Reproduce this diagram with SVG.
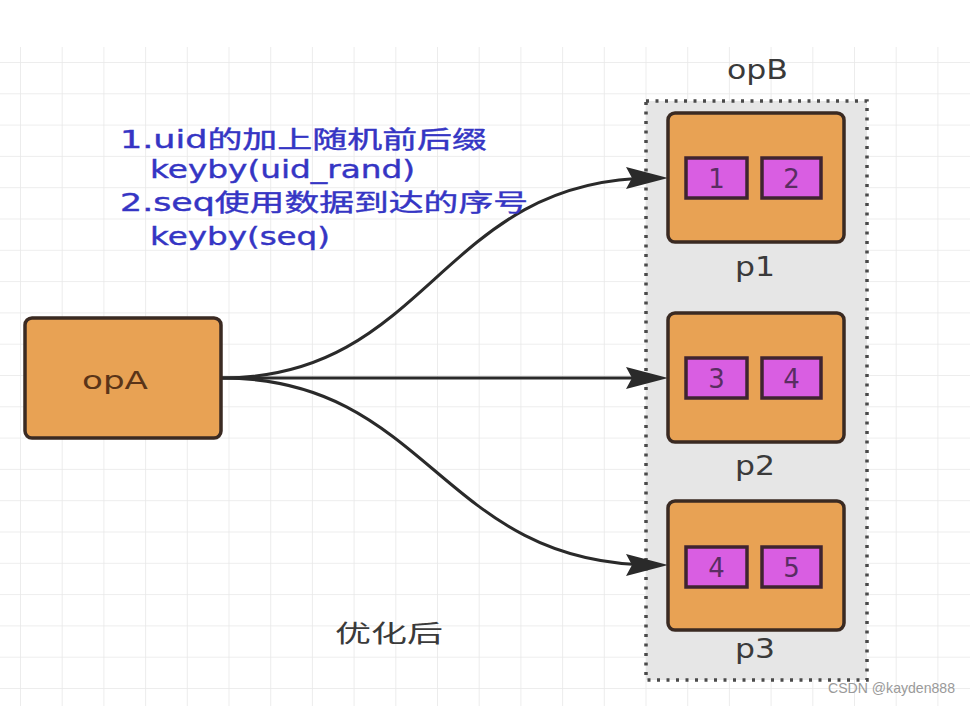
<svg xmlns="http://www.w3.org/2000/svg" width="970" height="706" viewBox="0 0 970 706">
<style>
.t{font-family:"DejaVu Sans","Noto Sans CJK SC",sans-serif;}
.blue{fill:#3535c4;font-size:24px;stroke:#3535c4;stroke-width:0.4;}
.box{fill:#E8A254;stroke:#3a2a22;stroke-width:3.5;}
.cell{fill:#D95EE2;stroke:#3f2430;stroke-width:3.5;}
.num{fill:#5a2d62;font-size:26px;text-anchor:middle;}
.lbl{fill:#3a3a3a;font-size:26px;}
.edge{fill:none;stroke:#2a2a2a;stroke-width:3;}
</style>
<defs>
<pattern id="grid" patternUnits="userSpaceOnUse" x="20" y="62" width="41.7" height="31.3">
<path d="M0,0 H41.7 M0,0 V31.3" fill="none" stroke="#e8e8e8" stroke-width="1.6"/>
</pattern>
<marker id="arr" markerUnits="userSpaceOnUse" markerWidth="44" markerHeight="24" refX="28" refY="11" orient="auto">
<path d="M0,0 L42,11 L0,22 L6,11 Z" fill="#2a2a2a"/>
</marker>
</defs>
<rect width="970" height="706" fill="#ffffff"/>
<rect x="0" y="47" width="970" height="659" fill="url(#grid)"/>

<g id="opB">
<rect x="646" y="101" width="221" height="579" fill="#e6e6e6" stroke="#4a4a4a" stroke-width="3.5" stroke-dasharray="3,6.5"/>
<text class="t lbl" x="727" y="79" textLength="61" lengthAdjust="spacingAndGlyphs">opB</text>
</g>

<g id="connectors">
<path class="edge" d="M222,378 C430,378 440,178 654,178" marker-end="url(#arr)"/>
<path class="edge" d="M222,378 L654,378" marker-end="url(#arr)"/>
<path class="edge" d="M222,378 C430,378 440,565 654,565" marker-end="url(#arr)"/>
</g>

<g id="opA">
<rect class="box" x="25" y="318" width="196" height="120" rx="7"/>
<text class="t" x="82" y="389" font-size="25" fill="#5a3418" textLength="66" lengthAdjust="spacingAndGlyphs">opA</text>
</g>

<g id="p1">
<rect class="box" x="668" y="113" width="176" height="129" rx="7"/>
<rect class="cell" x="686" y="158" width="61" height="40"/>
<rect class="cell" x="762" y="158" width="59" height="40"/>
<text class="t num" x="716.5" y="188">1</text>
<text class="t num" x="791.5" y="188">2</text>
<text class="t lbl" x="735" y="276" textLength="40" lengthAdjust="spacingAndGlyphs">p1</text>
</g>

<g id="p2">
<rect class="box" x="668" y="313" width="176" height="129" rx="7"/>
<rect class="cell" x="686" y="358" width="61" height="40"/>
<rect class="cell" x="762" y="358" width="59" height="40"/>
<text class="t num" x="716.5" y="388">3</text>
<text class="t num" x="791.5" y="388">4</text>
<text class="t lbl" x="735" y="475" textLength="40" lengthAdjust="spacingAndGlyphs">p2</text>
</g>

<g id="p3">
<rect class="box" x="668" y="501" width="176" height="129" rx="7"/>
<rect class="cell" x="686" y="547" width="61" height="40"/>
<rect class="cell" x="762" y="547" width="59" height="40"/>
<text class="t num" x="716.5" y="577">4</text>
<text class="t num" x="791.5" y="577">5</text>
<text class="t lbl" x="735" y="658" textLength="40" lengthAdjust="spacingAndGlyphs">p3</text>
</g>

<g id="note">
<text class="t blue" x="120" y="148" textLength="367" lengthAdjust="spacingAndGlyphs">1.uid的加上随机前后缀</text>
<text class="t blue" x="150" y="178" textLength="265" lengthAdjust="spacingAndGlyphs">keyby(uid_rand)</text>
<text class="t blue" x="120" y="211" textLength="408" lengthAdjust="spacingAndGlyphs">2.seq使用数据到达的序号</text>
<text class="t blue" x="150" y="245" textLength="180" lengthAdjust="spacingAndGlyphs">keyby(seq)</text>
</g>

<g id="caption">
<text class="t" x="335" y="642" font-size="24" fill="#3a3a3a" textLength="108" lengthAdjust="spacingAndGlyphs">优化后</text>
</g>

<g id="watermark">
<text x="828" y="693" font-family="Liberation Sans, sans-serif" font-size="15" fill="#9a9a9a" textLength="127" lengthAdjust="spacingAndGlyphs">CSDN @kayden888</text>
</g>
</svg>
